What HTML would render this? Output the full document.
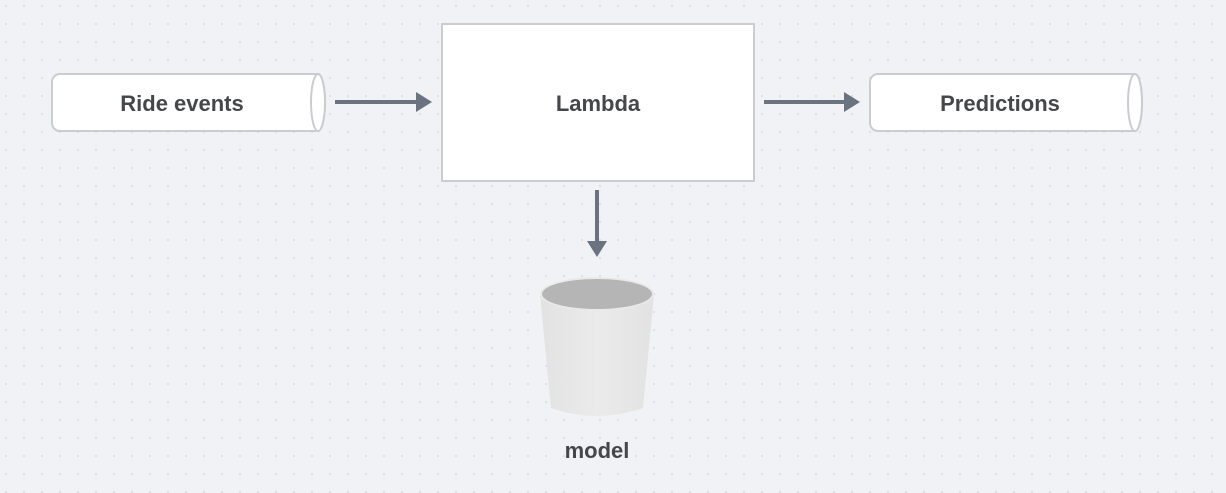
<!DOCTYPE html>
<html><head><meta charset="utf-8"><style>
html,body{margin:0;padding:0;background:#f0f2f5;}
svg{display:block}
text{font-family:"Liberation Sans",sans-serif;fill:#45474b;font-size:22px;font-weight:bold;text-anchor:middle;}
</style></head><body>
<svg width="1226" height="493" viewBox="0 0 1226 493" xmlns="http://www.w3.org/2000/svg">
<defs>
<pattern id="d" width="18" height="18" patternUnits="userSpaceOnUse" x="4" y="4">
<circle cx="2" cy="2" r="0.9" fill="#cdd1d8"/>
</pattern>
<linearGradient id="b" x1="0" x2="1">
<stop offset="0" stop-color="#e2e2e2"/><stop offset="0.5" stop-color="#ebebeb"/><stop offset="1" stop-color="#e2e2e2"/>
</linearGradient>
</defs>
<rect width="1226" height="493" fill="#f0f2f5"/>
<rect width="1226" height="493" fill="url(#d)"/>

<path d="M60,74 H318 A7,28.5 0 0 1 318,131 H60 A8,8 0 0 1 52,123 V82 A8,8 0 0 1 60,74 z" fill="#fff" stroke="#c9ccd1" stroke-width="2"/>
<ellipse cx="318" cy="102.5" rx="7" ry="28.5" fill="#fff" stroke="#c9ccd1" stroke-width="2"/>
<text x="182" y="111">Ride events</text>

<path d="M878,74 H1135 A7,28.5 0 0 1 1135,131 H878 A8,8 0 0 1 870,123 V82 A8,8 0 0 1 878,74 z" fill="#fff" stroke="#c9ccd1" stroke-width="2"/>
<ellipse cx="1135" cy="102.5" rx="7" ry="28.5" fill="#fff" stroke="#c9ccd1" stroke-width="2"/>
<text x="1000" y="111">Predictions</text>

<rect x="442" y="24" width="312" height="157" fill="#fff" stroke="#c9ccd1" stroke-width="2"/>
<text x="598" y="111">Lambda</text>

<g stroke="#6b7280" stroke-width="4" fill="none">
<line x1="335" y1="102" x2="424" y2="102"/>
<line x1="764" y1="102" x2="852" y2="102"/>
<line x1="597" y1="190" x2="597" y2="249"/>
</g>
<path d="M416,92 L432,102 L416,112 z" fill="#6b7280"/>
<path d="M844,92 L860,102 L844,112 z" fill="#6b7280"/>
<path d="M587,241 L597,257 L607,241 z" fill="#6b7280"/>

<path d="M540,294 L551,408 Q597,424 643,408 L654,294 z" fill="url(#b)"/>
<ellipse cx="597" cy="294" rx="57" ry="17" fill="#e9e9e9"/>
<ellipse cx="597" cy="294" rx="55" ry="15" fill="#b5b5b5"/>
<text x="597" y="458">model</text>
</svg>
</body></html>
